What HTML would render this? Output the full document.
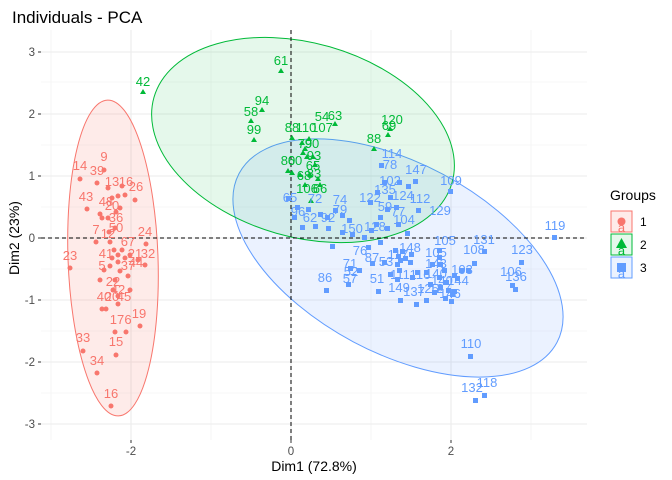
<!DOCTYPE html>
<html><head><meta charset="utf-8"><style>
body{margin:0;background:#fff}
svg{display:block;font-family:"Liberation Sans",sans-serif}
.g1{fill:#F8766D}.g2{fill:#00BA38}.g3{fill:#619CFF}
.l1{fill:#F8766D;font-size:13px;text-anchor:middle}
.l2{fill:#00BA38;font-size:13px;text-anchor:middle}
.l3{fill:#619CFF;font-size:13px;text-anchor:middle}
</style></head><body>
<svg width="672" height="480" viewBox="0 0 672 480">
<rect width="672" height="480" fill="#fff"/>
<text x="12" y="23" font-size="17" fill="#000">Individuals - PCA</text>
<g stroke="#f0f0f0" stroke-width="0.6">
<line x1="41" x2="587" y1="82" y2="82"/><line x1="41" x2="587" y1="145" y2="145"/><line x1="41" x2="587" y1="207" y2="207"/><line x1="41" x2="587" y1="269" y2="269"/><line x1="41" x2="587" y1="331" y2="331"/><line x1="41" x2="587" y1="393" y2="393"/>
<line y1="30" y2="440" x1="51" x2="51"/><line y1="30" y2="440" x1="211" x2="211"/><line y1="30" y2="440" x1="371" x2="371"/><line y1="30" y2="440" x1="531" x2="531"/>
</g>
<g stroke="#ebebeb" stroke-width="1.1">
<line x1="41" x2="587" y1="52" y2="52"/><line x1="41" x2="587" y1="114" y2="114"/><line x1="41" x2="587" y1="176" y2="176"/><line x1="41" x2="587" y1="238" y2="238"/><line x1="41" x2="587" y1="300" y2="300"/><line x1="41" x2="587" y1="362" y2="362"/><line x1="41" x2="587" y1="424" y2="424"/>
<line y1="30" y2="440" x1="131" x2="131"/><line y1="30" y2="440" x1="291" x2="291"/><line y1="30" y2="440" x1="451" x2="451"/>
</g>
<ellipse cx="113" cy="258" rx="45" ry="158" transform="rotate(-2 113 258)" fill="#F8766D" fill-opacity="0.15" stroke="#F8766D"/>
<ellipse cx="398" cy="258" rx="180" ry="95" transform="rotate(28 398 258)" fill="#619CFF" fill-opacity="0.13" stroke="#619CFF"/>
<ellipse cx="303" cy="140" rx="155" ry="97" transform="rotate(16 303 140)" fill="#00BA38" fill-opacity="0.1" stroke="#00BA38"/>
<line x1="41" x2="587" y1="238" y2="238" stroke="#000" stroke-dasharray="4,3"/>
<line y1="30" y2="440" x1="291" x2="291" stroke="#000" stroke-dasharray="4,3"/>
<g class="g1">
<circle cx="104" cy="170" r="2.5"/><circle cx="80" cy="179" r="2.5"/><circle cx="97" cy="183" r="2.5"/><circle cx="108" cy="188" r="2.5"/><circle cx="122" cy="186" r="2.5"/><circle cx="135" cy="200" r="2.5"/><circle cx="87" cy="209" r="2.5"/><circle cx="100" cy="214" r="2.5"/><circle cx="102" cy="218" r="2.5"/><circle cx="108" cy="218" r="2.5"/><circle cx="115" cy="228" r="2.5"/><circle cx="96" cy="242" r="2.5"/><circle cx="110" cy="242" r="2.5"/><circle cx="146" cy="244" r="2.5"/><circle cx="70" cy="268" r="2.5"/><circle cx="110" cy="266" r="2.5"/><circle cx="120" cy="271" r="2.5"/><circle cx="138" cy="260" r="2.5"/><circle cx="145" cy="265" r="2.5"/><circle cx="115" cy="280" r="2.5"/><circle cx="100" cy="280" r="2.5"/><circle cx="102" cy="309" r="2.5"/><circle cx="106" cy="309" r="2.5"/><circle cx="118" cy="304" r="2.5"/><circle cx="115" cy="332" r="2.5"/><circle cx="126" cy="332" r="2.5"/><circle cx="140" cy="326" r="2.5"/><circle cx="83" cy="351" r="2.5"/><circle cx="116" cy="355" r="2.5"/><circle cx="97" cy="373" r="2.5"/><circle cx="111" cy="406" r="2.5"/>
<circle cx="114" cy="250" r="2.5"/><circle cx="118" cy="255" r="2.5"/><circle cx="122" cy="250" r="2.5"/><circle cx="112" cy="258" r="2.5"/><circle cx="125" cy="258" r="2.5"/><circle cx="118" cy="262" r="2.5"/><circle cx="130" cy="255" r="2.5"/><circle cx="113" cy="290" r="2.5"/><circle cx="118" cy="296" r="2.5"/><circle cx="112" cy="198" r="2.5"/><circle cx="118" cy="196" r="2.5"/><circle cx="125" cy="195" r="2.5"/><circle cx="120" cy="208" r="2.5"/><circle cx="116" cy="212" r="2.5"/><circle cx="109" cy="232" r="2.5"/><circle cx="104" cy="270" r="2.5"/><circle cx="128" cy="276" r="2.5"/><circle cx="130" cy="290" r="2.5"/>
</g>
<g class="l1">
<text x="104" y="161">9</text><text x="80" y="170">14</text><text x="97" y="175">39</text><text x="112" y="186">13</text><text x="126" y="186">16</text><text x="136" y="191">26</text><text x="86" y="201">43</text><text x="106" y="206">48</text><text x="112" y="210">20</text><text x="116" y="222">36</text><text x="116" y="232">50</text><text x="96" y="234">7</text><text x="108" y="238">12</text><text x="128" y="246">67</text><text x="145" y="236">24</text><text x="70" y="260">23</text><text x="106" y="258">41</text><text x="135" y="258">21</text><text x="148" y="258">32</text><text x="136" y="267">44</text><text x="102" y="270">5</text><text x="128" y="270">37</text><text x="113" y="286">22</text><text x="118" y="294">42</text><text x="104" y="301">40</text><text x="112" y="301">20</text><text x="124" y="301">45</text><text x="117" y="324">17</text><text x="128" y="324">6</text><text x="139" y="318">19</text><text x="83" y="342">33</text><text x="116" y="346">15</text><text x="97" y="365">34</text><text x="111" y="398">16</text>
</g>
<g class="g2">
<polygon points="143,89 146,94 140,94"/><polygon points="281,68 284,73 278,73"/><polygon points="262,107 265,112 259,112"/><polygon points="251,118 254,123 248,123"/><polygon points="254,137 257,142 251,142"/><polygon points="292,135 295,140 289,140"/><polygon points="305,146 308,151 302,151"/><polygon points="309,136 312,141 306,141"/><polygon points="335,121 338,126 332,126"/><polygon points="390,126 393,131 387,131"/><polygon points="388,132 391,137 385,137"/><polygon points="374,146 377,151 371,151"/><polygon points="288,168 291,173 285,173"/><polygon points="292,170 295,175 289,175"/><polygon points="300,172 303,177 297,177"/><polygon points="315,162 318,167 312,167"/><polygon points="305,182 308,187 302,187"/><polygon points="320,182 323,187 317,187"/><polygon points="311,198 314,203 308,203"/><polygon points="303,150 306,155 300,155"/><polygon points="307,154 310,159 304,159"/><polygon points="313,154 316,159 310,159"/><polygon points="310,172 313,177 307,177"/><polygon points="318,176 321,181 315,181"/><polygon points="302,140 305,145 299,145"/>
</g>
<g class="l2">
<text x="143" y="86">42</text><text x="281" y="65">61</text><text x="262" y="105">94</text><text x="251" y="116">58</text><text x="254" y="134">99</text><text x="292" y="132">88</text><text x="306" y="132">110</text><text x="322" y="132">107</text><text x="322" y="121">54</text><text x="335" y="120">63</text><text x="392" y="124">120</text><text x="389" y="130">69</text><text x="374" y="143">88</text><text x="305" y="148">79</text><text x="312" y="148">90</text><text x="288" y="165">80</text><text x="295" y="165">60</text><text x="314" y="160">93</text><text x="304" y="180">68</text><text x="314" y="178">83</text><text x="307" y="193">106</text><text x="320" y="193">66</text><text x="313" y="170">65</text>
</g>
<g class="g3">
<rect x="552" y="235" width="5" height="5"/><rect x="379" y="163" width="5" height="5"/><rect x="413" y="179" width="5" height="5"/><rect x="448" y="189" width="5" height="5"/><rect x="416" y="208" width="5" height="5"/><rect x="405" y="231" width="5" height="5"/><rect x="519" y="260" width="5" height="5"/><rect x="482" y="249" width="5" height="5"/><rect x="472" y="261" width="5" height="5"/><rect x="510" y="283" width="5" height="5"/><rect x="513" y="287" width="5" height="5"/><rect x="468" y="354" width="5" height="5"/><rect x="473" y="398" width="5" height="5"/><rect x="482" y="393" width="5" height="5"/><rect x="324" y="288" width="5" height="5"/><rect x="376" y="289" width="5" height="5"/><rect x="398" y="298" width="5" height="5"/><rect x="414" y="302" width="5" height="5"/><rect x="424" y="298" width="5" height="5"/><rect x="346" y="282" width="5" height="5"/><rect x="348" y="266" width="5" height="5"/><rect x="357" y="268" width="5" height="5"/><rect x="388" y="272" width="5" height="5"/>
<rect x="286" y="196" width="5" height="5"/><rect x="295" y="205" width="5" height="5"/><rect x="306" y="207" width="5" height="5"/><rect x="318" y="212" width="5" height="5"/><rect x="325" y="215" width="5" height="5"/><rect x="333" y="208" width="5" height="5"/><rect x="340" y="213" width="5" height="5"/><rect x="347" y="218" width="5" height="5"/><rect x="313" y="224" width="5" height="5"/><rect x="326" y="226" width="5" height="5"/><rect x="340" y="230" width="5" height="5"/><rect x="350" y="232" width="5" height="5"/><rect x="362" y="235" width="5" height="5"/><rect x="369" y="228" width="5" height="5"/><rect x="374" y="222" width="5" height="5"/><rect x="378" y="215" width="5" height="5"/><rect x="385" y="207" width="5" height="5"/><rect x="368" y="200" width="5" height="5"/><rect x="375" y="190" width="5" height="5"/><rect x="382" y="180" width="5" height="5"/><rect x="388" y="195" width="5" height="5"/><rect x="394" y="205" width="5" height="5"/><rect x="378" y="240" width="5" height="5"/><rect x="366" y="245" width="5" height="5"/><rect x="330" y="244" width="5" height="5"/><rect x="300" y="225" width="5" height="5"/><rect x="292" y="215" width="5" height="5"/><rect x="396" y="222" width="5" height="5"/><rect x="385" y="226" width="5" height="5"/><rect x="406" y="184" width="5" height="5"/><rect x="397" y="180" width="5" height="5"/>
<rect x="393" y="248" width="5" height="5"/><rect x="396" y="254" width="5" height="5"/><rect x="400" y="249" width="5" height="5"/><rect x="398" y="258" width="5" height="5"/><rect x="403" y="256" width="5" height="5"/><rect x="395" y="262" width="5" height="5"/><rect x="409" y="252" width="5" height="5"/><rect x="408" y="260" width="5" height="5"/><rect x="397" y="268" width="5" height="5"/><rect x="415" y="270" width="5" height="5"/><rect x="370" y="261" width="5" height="5"/><rect x="410" y="275" width="5" height="5"/><rect x="395" y="277" width="5" height="5"/><rect x="382" y="260" width="5" height="5"/>
<rect x="437" y="255" width="5" height="5"/><rect x="438" y="262" width="5" height="5"/><rect x="442" y="268" width="5" height="5"/><rect x="437" y="275" width="5" height="5"/><rect x="444" y="280" width="5" height="5"/><rect x="438" y="285" width="5" height="5"/><rect x="446" y="288" width="5" height="5"/><rect x="452" y="273" width="5" height="5"/><rect x="455" y="276" width="5" height="5"/><rect x="459" y="268" width="5" height="5"/><rect x="450" y="292" width="5" height="5"/><rect x="432" y="290" width="5" height="5"/><rect x="443" y="296" width="5" height="5"/><rect x="449" y="299" width="5" height="5"/><rect x="452" y="289" width="5" height="5"/><rect x="437" y="248" width="5" height="5"/><rect x="466" y="268" width="5" height="5"/><rect x="430" y="262" width="5" height="5"/><rect x="424" y="270" width="5" height="5"/><rect x="428" y="282" width="5" height="5"/>
</g>
<g class="l3">
<text x="555" y="230">119</text><text x="392" y="158">114</text><text x="390" y="169">78</text><text x="416" y="174">147</text><text x="451" y="185">109</text><text x="420" y="203">112</text><text x="404" y="224">104</text><text x="522" y="254">123</text><text x="484" y="244">131</text><text x="474" y="254">108</text><text x="511" y="276">106</text><text x="516" y="281">136</text><text x="471" y="348">110</text><text x="472" y="392">132</text><text x="487" y="387">118</text><text x="325" y="282">86</text><text x="377" y="283">51</text><text x="399" y="292">149</text><text x="414" y="296">137</text><text x="428" y="293">125</text><text x="290" y="202">65</text><text x="315" y="203">72</text><text x="340" y="204">74</text><text x="298" y="216">96</text><text x="340" y="214">79</text><text x="310" y="222">62</text><text x="328" y="222">92</text><text x="370" y="202">122</text><text x="385" y="194">135</text><text x="390" y="185">102</text><text x="385" y="211">59</text><text x="403" y="200">124</text><text x="398" y="216">77</text><text x="440" y="215">129</text><text x="375" y="231">128</text><text x="352" y="233">150</text><text x="360" y="255">76</text><text x="350" y="268">71</text><text x="351" y="276">52</text><text x="350" y="283">57</text><text x="372" y="262">87</text><text x="386" y="266">53</text><text x="398" y="259">117</text><text x="410" y="252">148</text><text x="400" y="279">111</text><text x="420" y="279">116</text><text x="436" y="257">105</text><text x="436" y="268">143</text><text x="436" y="278">140</text><text x="442" y="285">140</text><text x="462" y="274">103</text><text x="440" y="293">127</text><text x="450" y="298">146</text><text x="458" y="285">144</text><text x="445" y="245">105</text>
</g>
<g stroke="#333" stroke-width="1">
<line x1="38" x2="41" y1="52" y2="52"/><line x1="38" x2="41" y1="114" y2="114"/><line x1="38" x2="41" y1="176" y2="176"/><line x1="38" x2="41" y1="238" y2="238"/><line x1="38" x2="41" y1="300" y2="300"/><line x1="38" x2="41" y1="362" y2="362"/><line x1="38" x2="41" y1="424" y2="424"/>
<line y1="440" y2="443" x1="131" x2="131"/><line y1="440" y2="443" x1="291" x2="291"/><line y1="440" y2="443" x1="451" x2="451"/>
</g>
<g font-size="11.5" fill="#4d4d4d" text-anchor="end">
<text x="35" y="56">3</text><text x="35" y="118">2</text><text x="35" y="180">1</text><text x="35" y="242">0</text><text x="35" y="304">-1</text><text x="35" y="366">-2</text><text x="35" y="428">-3</text>
</g>
<g font-size="11.5" fill="#4d4d4d" text-anchor="middle">
<text x="131" y="455">-2</text><text x="291" y="455">0</text><text x="451" y="455">2</text>
</g>
<text x="314" y="471" font-size="14" text-anchor="middle" fill="#000">Dim1 (72.8%)</text>
<text transform="translate(19 238) rotate(-90)" font-size="14" text-anchor="middle" fill="#000">Dim2 (23%)</text>
<text x="610" y="200" font-size="14" fill="#000">Groups</text>
<rect x="611" y="211" width="21" height="21" fill="#F8766D" fill-opacity="0.15" stroke="#F8766D"/>
<circle cx="621.5" cy="221.5" r="4" class="g1"/>
<text x="621.5" y="232" class="l1" font-size="11">a</text>
<text x="640" y="226" font-size="12" fill="#000">1</text>
<rect x="611" y="234" width="21" height="21" fill="#00BA38" fill-opacity="0.1" stroke="#00BA38"/>
<polygon points="621.5,238 627,248 616,248" class="g2"/>
<text x="621.5" y="255" class="l2" font-size="11">a</text>
<text x="640" y="249" font-size="12" fill="#000">2</text>
<rect x="611" y="257" width="21" height="21" fill="#619CFF" fill-opacity="0.13" stroke="#619CFF"/>
<rect x="617" y="263" width="9" height="9" class="g3"/>
<text x="621.5" y="278" class="l3" font-size="11">a</text>
<text x="640" y="272" font-size="12" fill="#000">3</text>
</svg>
</body></html>
